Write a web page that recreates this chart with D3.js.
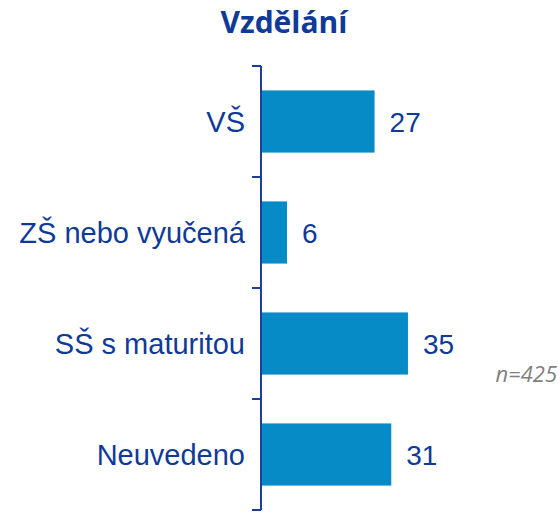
<!DOCTYPE html>
<html>
<head>
<meta charset="utf-8">
<script src="https://cdn.jsdelivr.net/npm/d3@7"></script>
<style>
body { margin: 0; background: #fff; }
</style>
</head>
<body>
<div id="chart"></div>
<script>
var categories = ["VŠ", "ZŠ nebo vyučená", "SŠ s maturitou", "Neuvedeno"];
var values = [27, 6, 35, 31];
var title = "Vzdělání";
var note = "n=425";

var svgWidth = 560, svgHeight = 513;
var axisX = 261;

var svg = d3.select("#chart").append("svg")
    .attr("width", svgWidth)
    .attr("height", svgHeight);

var x = d3.scaleLinear().domain([0, 50]).range([axisX, axisX + 208.5]);
var y = d3.scaleBand().domain(categories).range([66, 510]).paddingInner(0.44).paddingOuter(0.22);

// title
svg.append("text")
    .attr("x", 284).attr("y", 33)
    .attr("text-anchor", "middle")
    .style("font-family", "'Open Sans', sans-serif")
    .style("font-weight", "bold")
    .style("font-size", "30px")
    .style("fill", "#0f3a97")
    .text(title);

// bars
svg.selectAll("rect.bar").data(values).enter().append("rect")
    .attr("class", "bar")
    .attr("x", x(0) + 1)
    .attr("y", function(d, i) { return y(categories[i]); })
    .attr("width", function(d) { return x(d) - x(0); })
    .attr("height", y.bandwidth())
    .style("fill", "#068bc7");

// axis: line with ticks at category boundaries
var step = (510 - 66) / categories.length;
var tickY = d3.range(categories.length + 1).map(function(i) { return 66 + i * step; });

svg.append("line")
    .attr("x1", axisX).attr("x2", axisX)
    .attr("y1", 66).attr("y2", 510)
    .style("stroke", "#1a3f9c").style("stroke-width", 2);

svg.selectAll("line.tick").data(tickY).enter().append("line")
    .attr("class", "tick")
    .attr("x1", axisX - 9).attr("x2", axisX)
    .attr("y1", function(d) { return d; }).attr("y2", function(d) { return d; })
    .style("stroke", "#1a3f9c").style("stroke-width", 2);

// category labels
svg.selectAll("text.cat").data(categories).enter().append("text")
    .attr("class", "cat")
    .attr("x", 245)
    .attr("y", function(d) { return y(d) + y.bandwidth() / 2; })
    .attr("dy", "0.36em")
    .attr("text-anchor", "end")
    .style("font-family", "'Liberation Sans', Arial, sans-serif")
    .style("font-size", "29px")
    .style("fill", "#0f3a97")
    .text(function(d) { return d; });

// value labels
svg.selectAll("text.val").data(values).enter().append("text")
    .attr("class", "val")
    .attr("x", function(d) { return x(d) + 16; })
    .attr("y", function(d, i) { return y(categories[i]) + y.bandwidth() / 2; })
    .attr("dy", "0.36em")
    .style("font-family", "'Liberation Sans', Arial, sans-serif")
    .style("font-size", "28px")
    .style("fill", "#0f3a97")
    .text(function(d) { return d; });

// note
svg.append("text")
    .attr("x", 557).attr("y", 382)
    .attr("text-anchor", "end")
    .style("font-family", "'Open Sans', sans-serif")
    .style("font-style", "italic")
    .style("font-size", "22px")
    .style("fill", "#7f7f7f")
    .text(note);
</script>
</body>
</html>
